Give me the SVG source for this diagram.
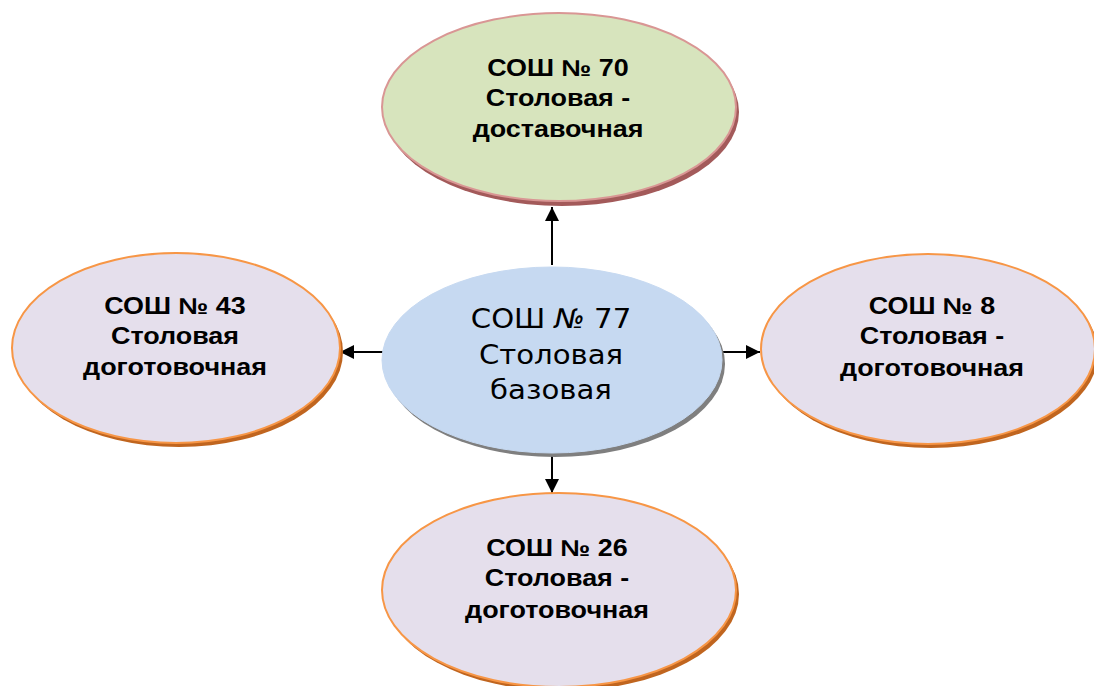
<svg xmlns="http://www.w3.org/2000/svg" width="1094" height="686" viewBox="0 0 1094 686">
<style>
.lbl{font-family:"Liberation Sans",Arial,sans-serif;font-weight:bold;font-size:23px;fill:#000;text-anchor:middle}
.ctr{font-family:"DejaVu Sans",Verdana,sans-serif;font-size:27px;fill:#000;text-anchor:middle}
.side{fill:#e5dfec;stroke:#f79646;stroke-width:2}
.sideSh{fill:#c0651f}
.conn{stroke:#000;stroke-width:2;fill:none;marker-end:url(#ah)}
</style>
<defs>
<marker id="ah" viewBox="0 0 10 10" refX="10" refY="5" markerWidth="7" markerHeight="7" markerUnits="strokeWidth" orient="auto">
<path d="M0,0 L10,5 L0,10 z" fill="#000"/>
</marker>
</defs>
<rect width="1094" height="686" fill="#fff"/>
<g id="connectors">
<line class="conn" x1="552" y1="265" x2="552" y2="207"/>
<line class="conn" x1="383" y1="352" x2="340" y2="352"/>
<line class="conn" x1="720" y1="352" x2="760" y2="352"/>
<line class="conn" x1="552" y1="453" x2="552" y2="493"/>
</g>
<g id="n70">
<ellipse cx="562" cy="112" rx="177" ry="94" fill="#a35a5a"/>
<ellipse cx="559" cy="107" rx="177" ry="94" fill="#d7e4bd" stroke="#d99694" stroke-width="2"/>
<g transform="translate(558 0) scale(1.17 1)">
<text class="lbl" x="0" y="76">СОШ № 70</text>
<text class="lbl" x="0" y="106">Столовая -</text>
<text class="lbl" x="0" y="137">доставочная</text>
</g>
</g>
<g id="n77">
<ellipse cx="555" cy="364" rx="170" ry="93" fill="#7f7f7f"/>
<ellipse cx="552" cy="360" rx="170" ry="93" fill="#c6d9f1" stroke="#c6d9f1" stroke-width="1"/>
<g transform="translate(551 0) scale(1.08 1)">
<text class="ctr" x="0" y="328">СОШ  <tspan font-style="italic">№</tspan> 77</text>
<text class="ctr" x="0" y="364">Столовая</text>
<text class="ctr" x="0" y="399">базовая</text>
</g>
</g>
<g id="n43">
<ellipse class="sideSh" cx="179" cy="352" rx="164" ry="95"/>
<ellipse class="side" cx="176" cy="348" rx="164" ry="95"/>
<g transform="translate(175 0) scale(1.17 1)">
<text class="lbl" x="0" y="314">СОШ № 43</text>
<text class="lbl" x="0" y="344">Столовая</text>
<text class="lbl" x="0" y="375">доготовочная</text>
</g>
</g>
<g id="n8">
<ellipse class="sideSh" cx="931" cy="353" rx="167" ry="95"/>
<ellipse class="side" cx="928" cy="349" rx="167" ry="95"/>
<g transform="translate(932 0) scale(1.17 1)">
<text class="lbl" x="0" y="314">СОШ № 8</text>
<text class="lbl" x="0" y="344">Столовая -</text>
<text class="lbl" x="0" y="376">доготовочная</text>
</g>
</g>
<g id="n26">
<ellipse class="sideSh" cx="562" cy="594" rx="177" ry="97"/>
<ellipse class="side" cx="559" cy="590" rx="177" ry="97"/>
<g transform="translate(557 0) scale(1.17 1)">
<text class="lbl" x="0" y="556">СОШ № 26</text>
<text class="lbl" x="0" y="586">Столовая -</text>
<text class="lbl" x="0" y="618">доготовочная</text>
</g>
</g>
</svg>
